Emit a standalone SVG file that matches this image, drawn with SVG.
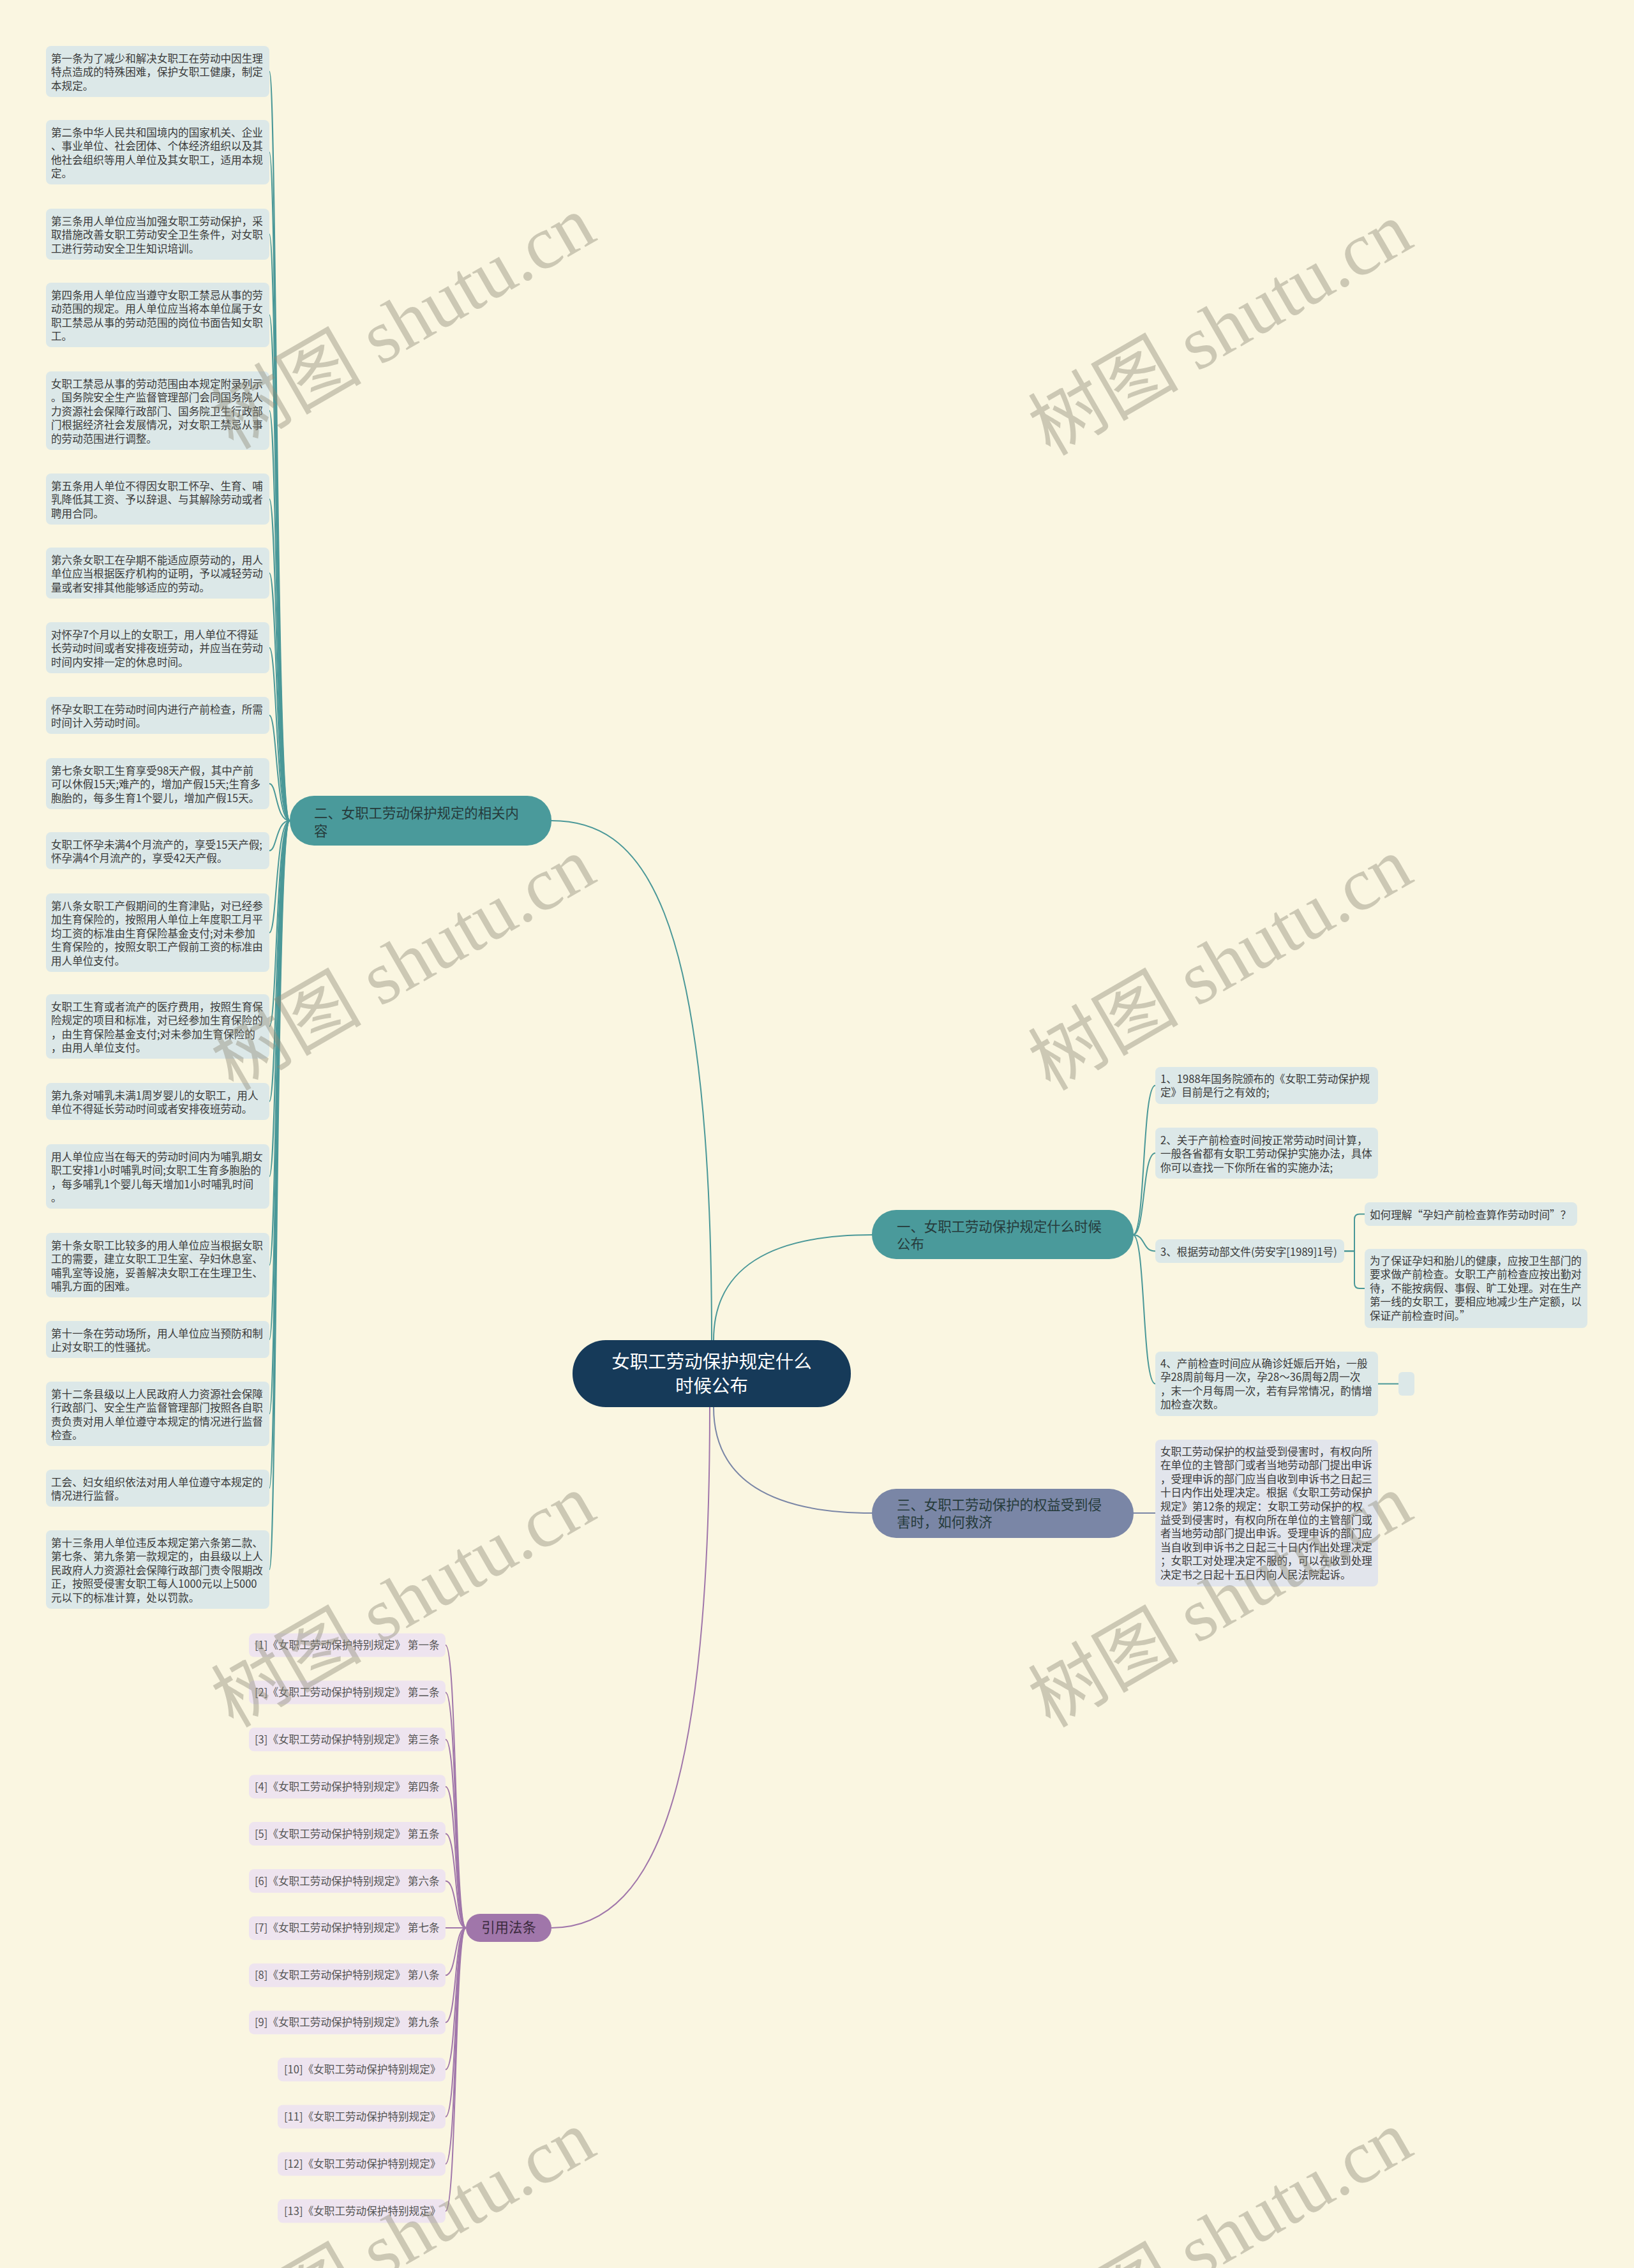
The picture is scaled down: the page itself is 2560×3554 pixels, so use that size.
<svg xmlns="http://www.w3.org/2000/svg" width="2560" height="3554" viewBox="0 0 2560 3554">
<style>
.bg{fill:#faf6e1}
.leaf{fill:#dce8e8}
.leaf3{fill:#e2e5ec}
.cite{fill:#eee4ef}
.t{font-family:"Noto Sans CJK SC","Liberation Sans",sans-serif;font-size:16.6px;fill:#3a3a3a}
.tc{font-family:"Noto Sans CJK SC","Liberation Sans",sans-serif;font-size:16.6px;fill:#555}
.bt{font-family:"Noto Sans CJK SC","Liberation Sans",sans-serif;font-size:21.4px;fill:#263b3b}
.ct{font-family:"Noto Sans CJK SC","Liberation Sans",sans-serif;font-size:28.5px;fill:#ffffff}
.lt{fill:none;stroke:#4a9898;stroke-width:2}
.ls{fill:none;stroke:#7a86a6;stroke-width:2}
.lp{fill:none;stroke:#a076aa;stroke-width:2}
.wm{font-family:"Liberation Serif","Noto Sans CJK SC",serif;font-size:118px;fill:#8e8b78;opacity:0.42}
</style>
<rect class="bg" x="0" y="0" width="2560" height="3554"/>

<g id="connectors">
<path class="lt" d="M864 1286 C1000 1286 1115 1400 1115 2100"/>
<path class="lt" d="M1118 2100 C1118 1985 1210 1935 1367 1935"/>
<path class="ls" d="M1118 2205 C1118 2320 1210 2371 1367 2371"/>
<path class="lp" d="M1112 2205 C1112 2760 1040 3021 864 3021"/>
<path class="lt" d="M454 1286 C432 1286 434 112 422 112"/>
<path class="lt" d="M454 1286 C432 1286 434 238.5 422 238.5"/>
<path class="lt" d="M454 1286 C432 1286 434 367 422 367"/>
<path class="lt" d="M454 1286 C432 1286 434 493.5 422 493.5"/>
<path class="lt" d="M454 1286 C432 1286 434 643.5 422 643.5"/>
<path class="lt" d="M454 1286 C432 1286 434 782 422 782"/>
<path class="lt" d="M454 1286 C432 1286 434 898 422 898"/>
<path class="lt" d="M454 1286 C432 1286 434 1015 422 1015"/>
<path class="lt" d="M454 1286 C432 1286 434 1121 422 1121"/>
<path class="lt" d="M454 1286 C432 1286 434 1228 422 1228"/>
<path class="lt" d="M454 1286 C432 1286 434 1333 422 1333"/>
<path class="lt" d="M454 1286 C432 1286 434 1461.5 422 1461.5"/>
<path class="lt" d="M454 1286 C432 1286 434 1608.5 422 1608.5"/>
<path class="lt" d="M454 1286 C432 1286 434 1726 422 1726"/>
<path class="lt" d="M454 1286 C432 1286 434 1843.5 422 1843.5"/>
<path class="lt" d="M454 1286 C432 1286 434 1982.5 422 1982.5"/>
<path class="lt" d="M454 1286 C432 1286 434 2099 422 2099"/>
<path class="lt" d="M454 1286 C432 1286 434 2215.5 422 2215.5"/>
<path class="lt" d="M454 1286 C432 1286 434 2332 422 2332"/>
<path class="lt" d="M454 1286 C432 1286 434 2459.5 422 2459.5"/>
<path class="lt" d="M1775 1935 C1795 1935 1789 1701 1810 1701"/>
<path class="lt" d="M1775 1935 C1795 1935 1789 1807 1810 1807"/>
<path class="lt" d="M1775 1935 C1795 1935 1789 1960.5 1810 1960.5"/>
<path class="lt" d="M1775 1935 C1795 1935 1789 2168.5 1810 2168.5"/>
<path class="lt" d="M2106 1960.5 H2122 V1910.5 Q2122 1902.5 2130 1902.5 H2138"/>
<path class="lt" d="M2106 1960.5 H2122 V2011 Q2122 2019 2130 2019 H2138"/>
<path class="lt" d="M2159 2168.5 H2191"/>
<path class="ls" d="M1775 2371 H1810"/>
<path class="lp" d="M730 3021 C712 3021 716 2578 698 2578"/>
<path class="lp" d="M730 3021 C712 3021 716 2651.9 698 2651.9"/>
<path class="lp" d="M730 3021 C712 3021 716 2725.8 698 2725.8"/>
<path class="lp" d="M730 3021 C712 3021 716 2799.7 698 2799.7"/>
<path class="lp" d="M730 3021 C712 3021 716 2873.6 698 2873.6"/>
<path class="lp" d="M730 3021 C712 3021 716 2947.5 698 2947.5"/>
<path class="lp" d="M730 3021 H698"/>
<path class="lp" d="M730 3021 C712 3021 716 3095.3 698 3095.3"/>
<path class="lp" d="M730 3021 C712 3021 716 3169.2 698 3169.2"/>
<path class="lp" d="M730 3021 C712 3021 716 3243.1 698 3243.1"/>
<path class="lp" d="M730 3021 C712 3021 716 3317 698 3317"/>
<path class="lp" d="M730 3021 C712 3021 716 3390.9 698 3390.9"/>
<path class="lp" d="M730 3021 C712 3021 716 3464.8 698 3464.8"/>
</g>

<g id="center">
<rect x="897" y="2100" width="436" height="105" rx="52" fill="#163a59"/>
<text class="ct" text-anchor="middle"><tspan x="1115" y="2144">女职工劳动保护规定什么</tspan><tspan x="1115" y="2182">时候公布</tspan></text>
</g>

<g id="branch-2">
<rect x="454" y="1247" width="410" height="78" rx="38" fill="#4a9a9b"/>
<text class="bt"><tspan x="492" y="1282">二、女职工劳动保护规定的相关内</tspan><tspan x="492" y="1310">容</tspan></text>
</g>
<g id="branch-1">
<rect x="1366" y="1896" width="410" height="77" rx="38" fill="#4a9a9b"/>
<text class="bt"><tspan x="1405" y="1930">一、女职工劳动保护规定什么时候</tspan><tspan x="1405" y="1957">公布</tspan></text>
</g>
<g id="branch-3">
<rect x="1366" y="2333" width="410" height="77" rx="38" fill="#7a86a6"/>
<text class="bt"><tspan x="1405" y="2366">三、女职工劳动保护的权益受到侵</tspan><tspan x="1405" y="2393">害时，如何救济</tspan></text>
</g>
<g id="branch-cite">
<rect x="730" y="2999" width="134" height="44" rx="22" fill="#a076aa"/>
<text class="bt" x="797" y="3028" text-anchor="middle" style="fill:#3a2a3c">引用法条</text>
</g>

<g id="leaf-1"><rect class="leaf" x="72" y="72" width="350" height="80" rx="8"/>
<text class="t"><tspan x="80" y="98">第一条为了减少和解决女职工在劳动中因生理</tspan><tspan x="80" y="119.4">特点造成的特殊困难，保护女职工健康，制定</tspan><tspan x="80" y="140.8">本规定。</tspan></text></g>
<g id="leaf-2"><rect class="leaf" x="72" y="188" width="350" height="101" rx="8"/>
<text class="t"><tspan x="80" y="214">第二条中华人民共和国境内的国家机关、企业</tspan><tspan x="80" y="235.4">、事业单位、社会团体、个体经济组织以及其</tspan><tspan x="80" y="256.8">他社会组织等用人单位及其女职工，适用本规</tspan><tspan x="80" y="278.2">定。</tspan></text></g>
<g id="leaf-3"><rect class="leaf" x="72" y="327" width="350" height="80" rx="8"/>
<text class="t"><tspan x="80" y="353">第三条用人单位应当加强女职工劳动保护，采</tspan><tspan x="80" y="374.4">取措施改善女职工劳动安全卫生条件，对女职</tspan><tspan x="80" y="395.8">工进行劳动安全卫生知识培训。</tspan></text></g>
<g id="leaf-4"><rect class="leaf" x="72" y="443" width="350" height="101" rx="8"/>
<text class="t"><tspan x="80" y="469">第四条用人单位应当遵守女职工禁忌从事的劳</tspan><tspan x="80" y="490.4">动范围的规定。用人单位应当将本单位属于女</tspan><tspan x="80" y="511.8">职工禁忌从事的劳动范围的岗位书面告知女职</tspan><tspan x="80" y="533.2">工。</tspan></text></g>
<g id="leaf-5"><rect class="leaf" x="72" y="582" width="350" height="123" rx="8"/>
<text class="t"><tspan x="80" y="608">女职工禁忌从事的劳动范围由本规定附录列示</tspan><tspan x="80" y="629.4">。国务院安全生产监督管理部门会同国务院人</tspan><tspan x="80" y="650.8">力资源社会保障行政部门、国务院卫生行政部</tspan><tspan x="80" y="672.2">门根据经济社会发展情况，对女职工禁忌从事</tspan><tspan x="80" y="693.6">的劳动范围进行调整。</tspan></text></g>
<g id="leaf-6"><rect class="leaf" x="72" y="742" width="350" height="80" rx="8"/>
<text class="t"><tspan x="80" y="768">第五条用人单位不得因女职工怀孕、生育、哺</tspan><tspan x="80" y="789.4">乳降低其工资、予以辞退、与其解除劳动或者</tspan><tspan x="80" y="810.8">聘用合同。</tspan></text></g>
<g id="leaf-7"><rect class="leaf" x="72" y="858" width="350" height="80" rx="8"/>
<text class="t"><tspan x="80" y="884">第六条女职工在孕期不能适应原劳动的，用人</tspan><tspan x="80" y="905.4">单位应当根据医疗机构的证明，予以减轻劳动</tspan><tspan x="80" y="926.8">量或者安排其他能够适应的劳动。</tspan></text></g>
<g id="leaf-8"><rect class="leaf" x="72" y="975" width="350" height="80" rx="8"/>
<text class="t"><tspan x="80" y="1001">对怀孕7个月以上的女职工，用人单位不得延</tspan><tspan x="80" y="1022.4">长劳动时间或者安排夜班劳动，并应当在劳动</tspan><tspan x="80" y="1043.8">时间内安排一定的休息时间。</tspan></text></g>
<g id="leaf-9"><rect class="leaf" x="72" y="1092" width="350" height="58" rx="8"/>
<text class="t"><tspan x="80" y="1118">怀孕女职工在劳动时间内进行产前检查，所需</tspan><tspan x="80" y="1139.4">时间计入劳动时间。</tspan></text></g>
<g id="leaf-10"><rect class="leaf" x="72" y="1188" width="350" height="80" rx="8"/>
<text class="t"><tspan x="80" y="1214">第七条女职工生育享受98天产假，其中产前</tspan><tspan x="80" y="1235.4">可以休假15天;难产的，增加产假15天;生育多</tspan><tspan x="80" y="1256.8">胞胎的，每多生育1个婴儿，增加产假15天。</tspan></text></g>
<g id="leaf-11"><rect class="leaf" x="72" y="1304" width="350" height="58" rx="8"/>
<text class="t"><tspan x="80" y="1330">女职工怀孕未满4个月流产的，享受15天产假;</tspan><tspan x="80" y="1351.4">怀孕满4个月流产的，享受42天产假。</tspan></text></g>
<g id="leaf-12"><rect class="leaf" x="72" y="1400" width="350" height="123" rx="8"/>
<text class="t"><tspan x="80" y="1426">第八条女职工产假期间的生育津贴，对已经参</tspan><tspan x="80" y="1447.4">加生育保险的，按照用人单位上年度职工月平</tspan><tspan x="80" y="1468.8">均工资的标准由生育保险基金支付;对未参加</tspan><tspan x="80" y="1490.2">生育保险的，按照女职工产假前工资的标准由</tspan><tspan x="80" y="1511.6">用人单位支付。</tspan></text></g>
<g id="leaf-13"><rect class="leaf" x="72" y="1558" width="350" height="101" rx="8"/>
<text class="t"><tspan x="80" y="1584">女职工生育或者流产的医疗费用，按照生育保</tspan><tspan x="80" y="1605.4">险规定的项目和标准，对已经参加生育保险的</tspan><tspan x="80" y="1626.8">，由生育保险基金支付;对未参加生育保险的</tspan><tspan x="80" y="1648.2">，由用人单位支付。</tspan></text></g>
<g id="leaf-14"><rect class="leaf" x="72" y="1697" width="350" height="58" rx="8"/>
<text class="t"><tspan x="80" y="1723">第九条对哺乳未满1周岁婴儿的女职工，用人</tspan><tspan x="80" y="1744.4">单位不得延长劳动时间或者安排夜班劳动。</tspan></text></g>
<g id="leaf-15"><rect class="leaf" x="72" y="1793" width="350" height="101" rx="8"/>
<text class="t"><tspan x="80" y="1819">用人单位应当在每天的劳动时间内为哺乳期女</tspan><tspan x="80" y="1840.4">职工安排1小时哺乳时间;女职工生育多胞胎的</tspan><tspan x="80" y="1861.8">，每多哺乳1个婴儿每天增加1小时哺乳时间</tspan><tspan x="80" y="1883.2">。</tspan></text></g>
<g id="leaf-16"><rect class="leaf" x="72" y="1932" width="350" height="101" rx="8"/>
<text class="t"><tspan x="80" y="1958">第十条女职工比较多的用人单位应当根据女职</tspan><tspan x="80" y="1979.4">工的需要，建立女职工卫生室、孕妇休息室、</tspan><tspan x="80" y="2000.8">哺乳室等设施，妥善解决女职工在生理卫生、</tspan><tspan x="80" y="2022.2">哺乳方面的困难。</tspan></text></g>
<g id="leaf-17"><rect class="leaf" x="72" y="2070" width="350" height="58" rx="8"/>
<text class="t"><tspan x="80" y="2096">第十一条在劳动场所，用人单位应当预防和制</tspan><tspan x="80" y="2117.4">止对女职工的性骚扰。</tspan></text></g>
<g id="leaf-18"><rect class="leaf" x="72" y="2165" width="350" height="101" rx="8"/>
<text class="t"><tspan x="80" y="2191">第十二条县级以上人民政府人力资源社会保障</tspan><tspan x="80" y="2212.4">行政部门、安全生产监督管理部门按照各自职</tspan><tspan x="80" y="2233.8">责负责对用人单位遵守本规定的情况进行监督</tspan><tspan x="80" y="2255.2">检查。</tspan></text></g>
<g id="leaf-19"><rect class="leaf" x="72" y="2303" width="350" height="58" rx="8"/>
<text class="t"><tspan x="80" y="2329">工会、妇女组织依法对用人单位遵守本规定的</tspan><tspan x="80" y="2350.4">情况进行监督。</tspan></text></g>
<g id="leaf-20"><rect class="leaf" x="72" y="2398" width="350" height="123" rx="8"/>
<text class="t"><tspan x="80" y="2424">第十三条用人单位违反本规定第六条第二款、</tspan><tspan x="80" y="2445.4">第七条、第九条第一款规定的，由县级以上人</tspan><tspan x="80" y="2466.8">民政府人力资源社会保障行政部门责令限期改</tspan><tspan x="80" y="2488.2">正，按照受侵害女职工每人1000元以上5000</tspan><tspan x="80" y="2509.6">元以下的标准计算，处以罚款。</tspan></text></g>

<g id="r-1"><rect class="leaf" x="1810" y="1672" width="349" height="58" rx="8"/>
<text class="t"><tspan x="1818" y="1697">1、1988年国务院颁布的《女职工劳动保护规</tspan><tspan x="1818" y="1718.4">定》目前是行之有效的;</tspan></text></g>
<g id="r-2"><rect class="leaf" x="1810" y="1767" width="349" height="80" rx="8"/>
<text class="t"><tspan x="1818" y="1793">2、关于产前检查时间按正常劳动时间计算，</tspan><tspan x="1818" y="1814.4">一般各省都有女职工劳动保护实施办法，具体</tspan><tspan x="1818" y="1835.8">你可以查找一下你所在省的实施办法;</tspan></text></g>
<g id="r-3"><rect class="leaf" x="1810" y="1942" width="296" height="37" rx="8"/>
<text class="t" x="1818" y="1968">3、根据劳动部文件(劳安字[1989]1号)</text></g>
<g id="r-3a"><rect class="leaf" x="2138" y="1884" width="333" height="37" rx="8"/>
<text class="t" x="2146" y="1910">如何理解“孕妇产前检查算作劳动时间”？</text></g>
<g id="r-3b"><rect class="leaf" x="2138" y="1957" width="349" height="124" rx="8"/>
<text class="t"><tspan x="2146" y="1982">为了保证孕妇和胎儿的健康，应按卫生部门的</tspan><tspan x="2146" y="2003.4">要求做产前检查。女职工产前检查应按出勤对</tspan><tspan x="2146" y="2024.8">待，不能按病假、事假、旷工处理。对在生产</tspan><tspan x="2146" y="2046.2">第一线的女职工，要相应地减少生产定额，以</tspan><tspan x="2146" y="2067.6">保证产前检查时间。”</tspan></text></g>
<g id="r-4"><rect class="leaf" x="1810" y="2118" width="349" height="101" rx="8"/>
<text class="t"><tspan x="1818" y="2143">4、产前检查时间应从确诊妊娠后开始，一般</tspan><tspan x="1818" y="2164.4">孕28周前每月一次，孕28～36周每2周一次</tspan><tspan x="1818" y="2185.8">，末一个月每周一次，若有异常情况，酌情增</tspan><tspan x="1818" y="2207.2">加检查次数。</tspan></text></g>
<g id="r-4a"><rect class="leaf" x="2191" y="2150" width="25" height="37" rx="6"/></g>

<g id="r-5"><rect class="leaf3" x="1810" y="2256" width="349" height="230" rx="8"/>
<text class="t"><tspan x="1818" y="2281">女职工劳动保护的权益受到侵害时，有权向所</tspan><tspan x="1818" y="2302.4">在单位的主管部门或者当地劳动部门提出申诉</tspan><tspan x="1818" y="2323.8">，受理申诉的部门应当自收到申诉书之日起三</tspan><tspan x="1818" y="2345.2">十日内作出处理决定。根据《女职工劳动保护</tspan><tspan x="1818" y="2366.6">规定》第12条的规定：女职工劳动保护的权</tspan><tspan x="1818" y="2388">益受到侵害时，有权向所在单位的主管部门或</tspan><tspan x="1818" y="2409.4">者当地劳动部门提出申诉。受理申诉的部门应</tspan><tspan x="1818" y="2430.8">当自收到申诉书之日起三十日内作出处理决定</tspan><tspan x="1818" y="2452.2">；女职工对处理决定不服的，可以在收到处理</tspan><tspan x="1818" y="2473.6">决定书之日起十五日内向人民法院起诉。</tspan></text></g>

<g id="cite-1"><rect class="cite" x="390" y="2559.5" width="308" height="37" rx="8"/><text class="tc" x="399" y="2584">[1]《女职工劳动保护特别规定》 第一条</text></g>
<g id="cite-2"><rect class="cite" x="390" y="2633.4" width="308" height="37" rx="8"/><text class="tc" x="399" y="2657.9">[2]《女职工劳动保护特别规定》 第二条</text></g>
<g id="cite-3"><rect class="cite" x="390" y="2707.3" width="308" height="37" rx="8"/><text class="tc" x="399" y="2731.8">[3]《女职工劳动保护特别规定》 第三条</text></g>
<g id="cite-4"><rect class="cite" x="390" y="2781.2" width="308" height="37" rx="8"/><text class="tc" x="399" y="2805.7">[4]《女职工劳动保护特别规定》 第四条</text></g>
<g id="cite-5"><rect class="cite" x="390" y="2855.1" width="308" height="37" rx="8"/><text class="tc" x="399" y="2879.6">[5]《女职工劳动保护特别规定》 第五条</text></g>
<g id="cite-6"><rect class="cite" x="390" y="2929" width="308" height="37" rx="8"/><text class="tc" x="399" y="2953.5">[6]《女职工劳动保护特别规定》 第六条</text></g>
<g id="cite-7"><rect class="cite" x="390" y="3002.9" width="308" height="37" rx="8"/><text class="tc" x="399" y="3027.4">[7]《女职工劳动保护特别规定》 第七条</text></g>
<g id="cite-8"><rect class="cite" x="390" y="3076.8" width="308" height="37" rx="8"/><text class="tc" x="399" y="3101.3">[8]《女职工劳动保护特别规定》 第八条</text></g>
<g id="cite-9"><rect class="cite" x="390" y="3150.7" width="308" height="37" rx="8"/><text class="tc" x="399" y="3175.2">[9]《女职工劳动保护特别规定》 第九条</text></g>
<g id="cite-10"><rect class="cite" x="435" y="3224.6" width="263" height="37" rx="8"/><text class="tc" x="445" y="3249.1">[10]《女职工劳动保护特别规定》</text></g>
<g id="cite-11"><rect class="cite" x="435" y="3298.5" width="263" height="37" rx="8"/><text class="tc" x="445" y="3323">[11]《女职工劳动保护特别规定》</text></g>
<g id="cite-12"><rect class="cite" x="435" y="3372.4" width="263" height="37" rx="8"/><text class="tc" x="445" y="3396.9">[12]《女职工劳动保护特别规定》</text></g>
<g id="cite-13"><rect class="cite" x="435" y="3446.3" width="263" height="37" rx="8"/><text class="tc" x="445" y="3470.8">[13]《女职工劳动保护特别规定》</text></g>

<g id="watermarks">
<text class="wm" text-anchor="middle" transform="translate(652 540) rotate(-30)">树图 shutu.cn</text>
<text class="wm" text-anchor="middle" transform="translate(1932 550) rotate(-30)">树图 shutu.cn</text>
<text class="wm" text-anchor="middle" transform="translate(652 1545) rotate(-30)">树图 shutu.cn</text>
<text class="wm" text-anchor="middle" transform="translate(1932 1545) rotate(-30)">树图 shutu.cn</text>
<text class="wm" text-anchor="middle" transform="translate(652 2543) rotate(-30)">树图 shutu.cn</text>
<text class="wm" text-anchor="middle" transform="translate(1932 2543) rotate(-30)">树图 shutu.cn</text>
<text class="wm" text-anchor="middle" transform="translate(652 3540) rotate(-30)">树图 shutu.cn</text>
<text class="wm" text-anchor="middle" transform="translate(1932 3540) rotate(-30)">树图 shutu.cn</text>
</g>
</svg>
